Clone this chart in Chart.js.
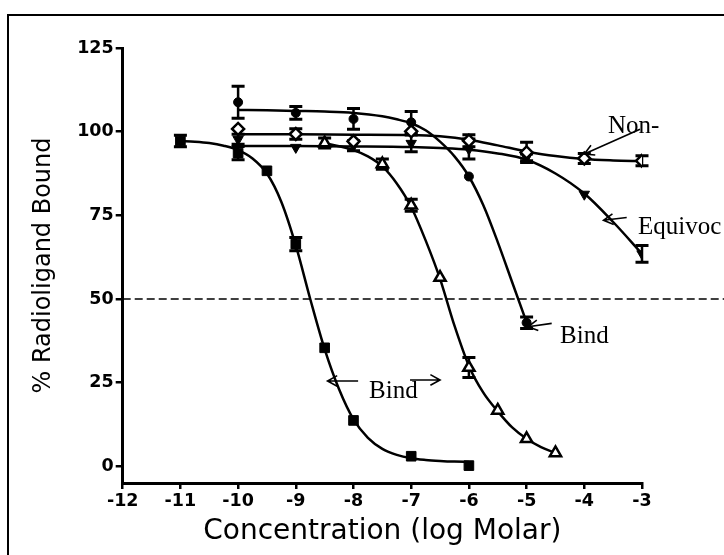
<!DOCTYPE html>
<html>
<head>
<meta charset="utf-8">
<title>Radioligand binding</title>
<script src="https://cdn.jsdelivr.net/npm/chart.js@4.4.1/dist/chart.umd.min.js"></script>
<style>
  html, body { margin: 0; padding: 0; background: #fff; }
  canvas { display: block; }
</style>
</head>
<body>
<canvas id="bindingChart" width="724" height="555"></canvas>
<script>
'use strict';

// axis ticks
const xTicks = [-12, -11, -10, -9, -8, -7, -6, -5, -4, -3];
const yTicks = [0, 25, 50, 75, 100, 125];

// measured points: log concentration, % bound, error
const squareX = [-11, -10, -9.5, -9, -8.5, -8, -7, -6];
const squareY = [97.2, 93.6, 88.3, 66.4, 35.4, 13.7, 3.0, 0.2];
const squareErr = [1.7, 2, 0, 2, 0, 0, 0, 0];

const circleX = [-10, -9, -8, -7, -6, -5];
const circleY = [108.8, 105.6, 103.8, 102.8, 86.6, 42.9];
const circleErr = [4.8, 1.9, 3.1, 3.2, 0, 1.7];

const diamondX = [-10, -9, -8, -7, -6, -5, -4, -3];
const diamondY = [100.8, 99.3, 97.1, 100.1, 97.3, 93.8, 92.0, 91.3];
const diamondErr = [0, 1.6, 0, 0, 1.8, 3, 1.5, 1.5];

const downX = [-10, -9, -8, -7, -6, -5, -4, -3];
const downY = [97.7, 95.3, 95.8, 96.5, 94.8, 92.3, 81.3, 63.5];
const downErr = [1.5, 0, 1.5, 2.5, 3, 1, 0, 2.5];

const upX = [-8.5, -7.5, -7, -6.5, -6, -5.5, -5, -4.5];
const upY = [96.6, 90.3, 78.0, 56.4, 29.5, 16.7, 8.2, 4.0];
const upErr = [1.5, 1.5, 1.8, 0, 3, 0, 0, 0];

// fitted curves
const squareFitX = [-11, -10.75, -10.5, -10.25, -10, -9.75, -9.5, -9.25, -9, -8.75, -8.5,
  -8.25, -8, -7.75, -7.5, -7.25, -7, -6.75, -6.5, -6.25, -6];
const squareFitY = [97.2, 97, 96.6, 95.8, 94.5, 92, 87.5, 79, 66, 50, 35,
  23, 14, 8.5, 5.2, 3.4, 2.4, 1.9, 1.6, 1.4, 1.3];

const circleFitX = [-10, -9.5, -9, -8.5, -8, -7.5, -7.25, -7, -6.75, -6.5, -6.25, -6, -5.75, -5.5, -5.25, -5];
const circleFitY = [106.5, 106.4, 106.2, 106, 105.6, 104.6, 103.7, 102.5, 100.4, 97, 92.6, 86.6, 78, 67, 55, 43];

const diamondFitX = [-10, -9, -8, -7, -6.5, -6, -5.5, -5, -4.5, -4, -3.5, -3];
const diamondFitY = [99.2, 99.2, 99.1, 99, 98.6, 97.6, 95.9, 94.1, 92.7, 91.8, 91.4, 91.2];

const downFitX = [-10, -9, -8, -7, -6.5, -6, -5.5, -5, -4.5, -4, -3.5, -3];
const downFitY = [95.7, 95.7, 95.6, 95.4, 95.1, 94.6, 93.5, 91.6, 87.5, 81.5, 73, 63.5];

const upFitX = [-8.5, -8, -7.75, -7.5, -7.25, -7, -6.75, -6.5, -6.25, -6, -5.75, -5.5, -5.25, -5, -4.75, -4.5];
const upFitY = [96.6, 94.5, 92.6, 89.6, 84.5, 77.5, 67.5, 56, 42, 30, 22, 16.4, 11.6, 8.2, 5.7, 4];

// 50 % reference line
const halfX = [-12, -1.5];
const halfY = [50, 50];

const toPoints = (xs, ys) => xs.map((v, i) => ({x: v, y: ys[i]}));

const markerSeries = [
  {x: squareX, y: squareY, err: squareErr, style: 'rect', radius: 6.8, fill: '#000', bw: 1},
  {x: circleX, y: circleY, err: circleErr, style: 'circle', radius: 4.5, fill: '#000', bw: 1},
  {x: diamondX, y: diamondY, err: diamondErr, style: 'rectRot', radius: 6, fill: '#fff', bw: 2.5},
  {x: downX, y: downY, err: downErr, style: 'triangle', radius: 6, fill: '#000', bw: 1, rot: 180},
  {x: upX, y: upY, err: upErr, style: 'triangle', radius: 6.5, fill: '#fff', bw: 2.5}
];

const fitSeries = [
  [squareFitX, squareFitY],
  [circleFitX, circleFitY],
  [diamondFitX, diamondFitY],
  [downFitX, downFitY],
  [upFitX, upFitY]
];

const datasets = [];

markerSeries.forEach(function (s) {
  datasets.push({
    data: toPoints(s.x, s.y),
    showLine: false,
    pointStyle: s.style,
    pointRadius: s.radius,
    pointRotation: s.rot || 0,
    pointBackgroundColor: s.fill,
    pointBorderColor: '#000',
    pointBorderWidth: s.bw,
    order: 0
  });
});

fitSeries.forEach(function (f) {
  datasets.push({
    data: toPoints(f[0], f[1]),
    showLine: true,
    borderColor: '#000',
    borderWidth: 2.5,
    pointRadius: 0,
    cubicInterpolationMode: 'monotone',
    order: 1
  });
});

datasets.push({
  data: toPoints(halfX, halfY),
  showLine: true,
  borderColor: '#000',
  borderWidth: 1.6,
  borderDash: [8, 4],
  pointRadius: 0,
  clip: false,
  order: 2
});

// text notes and arrows, placed in data units
const notes = [
  {text: 'Non-', x: -3.59, y: 99.7},
  {text: 'Equivoc', x: -3.07, y: 69.4},
  {text: 'Bind', x: -4.42, y: 36.9},
  {text: 'Bind', x: -7.73, y: 20.3}
];
const arrows = [
  {from: [-3.035, 100.7], to: [-4.0, 93.3]},
  {from: [-3.265, 74.35], to: [-3.667, 73.5]},
  {from: [-4.565, 42.7], to: [-4.976, 41.7]},
  {from: [-7.02, 25.8], to: [-6.5, 25.8]},
  {from: [-7.92, 25.5], to: [-8.45, 25.5]}
];

const errorBars = {
  id: 'errorBars',
  beforeDatasetsDraw(chart) {
    const {ctx, scales: {x, y}} = chart;
    ctx.save();
    ctx.strokeStyle = '#000';
    markerSeries.forEach(function (s) {
      for (let i = 0; i < s.x.length; i++) {
        if (!s.err[i]) continue;
        const px = x.getPixelForValue(s.x[i]);
        const top = y.getPixelForValue(s.y[i] + s.err[i]);
        const bot = y.getPixelForValue(s.y[i] - s.err[i]);
        ctx.lineWidth = 2.5;
        ctx.beginPath();
        ctx.moveTo(px, top);
        ctx.lineTo(px, bot);
        ctx.stroke();
        ctx.lineWidth = 3;
        ctx.beginPath();
        ctx.moveTo(px - 6.5, top);
        ctx.lineTo(px + 6.5, top);
        ctx.moveTo(px - 6.5, bot);
        ctx.lineTo(px + 6.5, bot);
        ctx.stroke();
      }
    });
    ctx.restore();
  }
};

const frameAndNotes = {
  id: 'frameAndNotes',
  beforeDraw(chart) {
    const ctx = chart.ctx;
    ctx.save();
    ctx.strokeStyle = '#000';
    ctx.lineWidth = 2;
    ctx.strokeRect(8, 15, 900, 900);
    ctx.restore();
  },
  afterDraw(chart) {
    const {ctx, scales: {x, y}} = chart;
    ctx.save();
    ctx.fillStyle = '#000';
    ctx.strokeStyle = '#000';
    ctx.font = '25px "Liberation Serif", "Times New Roman", serif';
    ctx.textBaseline = 'alphabetic';
    ctx.textAlign = 'left';
    notes.forEach(function (n) {
      ctx.fillText(n.text, x.getPixelForValue(n.x), y.getPixelForValue(n.y));
    });
    ctx.lineWidth = 1.6;
    arrows.forEach(function (a) {
      const x1 = x.getPixelForValue(a.from[0]);
      const y1 = y.getPixelForValue(a.from[1]);
      const x2 = x.getPixelForValue(a.to[0]);
      const y2 = y.getPixelForValue(a.to[1]);
      const ang = Math.atan2(y2 - y1, x2 - x1);
      const head = 11;
      const spread = 0.5;
      ctx.beginPath();
      ctx.moveTo(x1, y1);
      ctx.lineTo(x2, y2);
      ctx.moveTo(x2 - head * Math.cos(ang - spread), y2 - head * Math.sin(ang - spread));
      ctx.lineTo(x2, y2);
      ctx.lineTo(x2 - head * Math.cos(ang + spread), y2 - head * Math.sin(ang + spread));
      ctx.stroke();
    });
    ctx.restore();
  }
};

Chart.defaults.font.family = '"DejaVu Sans", sans-serif';
Chart.defaults.color = '#000';

const ctx = document.getElementById('bindingChart').getContext('2d');

const bindingChart = new Chart(ctx, {
  type: 'scatter',
  data: {datasets: datasets},
  options: {
    responsive: false,
    devicePixelRatio: 1,
    animation: false,
    layout: {padding: {top: 48, right: 82, left: 0, bottom: 0}},
    plugins: {
      legend: {display: false},
      tooltip: {enabled: false}
    },
    scales: {
      x: {
        type: 'linear',
        min: -12,
        max: -3,
        afterBuildTicks: (scale) => { scale.ticks = xTicks.map(v => ({value: v})); },
        afterFit: (scale) => { scale.height = 72; },
        border: {display: true, color: '#000', width: 3},
        grid: {drawOnChartArea: false, drawTicks: true, tickLength: 6, color: '#000', lineWidth: 2.5},
        ticks: {padding: 2, font: {size: 17.5, weight: 'bold'}, color: '#000', maxRotation: 0, autoSkip: false},
        title: {
          display: true,
          text: 'Concentration (log Molar)',
          font: {size: 28},
          color: '#000',
          padding: {top: 0, bottom: 6}
        }
      },
      y: {
        type: 'linear',
        min: -5,
        max: 125,
        afterBuildTicks: (scale) => { scale.ticks = yTicks.map(v => ({value: v})); },
        afterFit: (scale) => { scale.width = 122.7; },
        border: {display: true, color: '#000', width: 3},
        grid: {drawOnChartArea: false, drawTicks: true, tickLength: 7, color: '#000', lineWidth: 2.5},
        ticks: {padding: 2, font: {size: 17.5, weight: 'bold'}, color: '#000', autoSkip: false},
        title: {
          display: true,
          text: '% Radioligand Bound',
          font: {size: 24},
          color: '#000',
          padding: {top: 29, bottom: 0}
        }
      }
    }
  },
  plugins: [errorBars, frameAndNotes]
});
</script>
</body>
</html>
